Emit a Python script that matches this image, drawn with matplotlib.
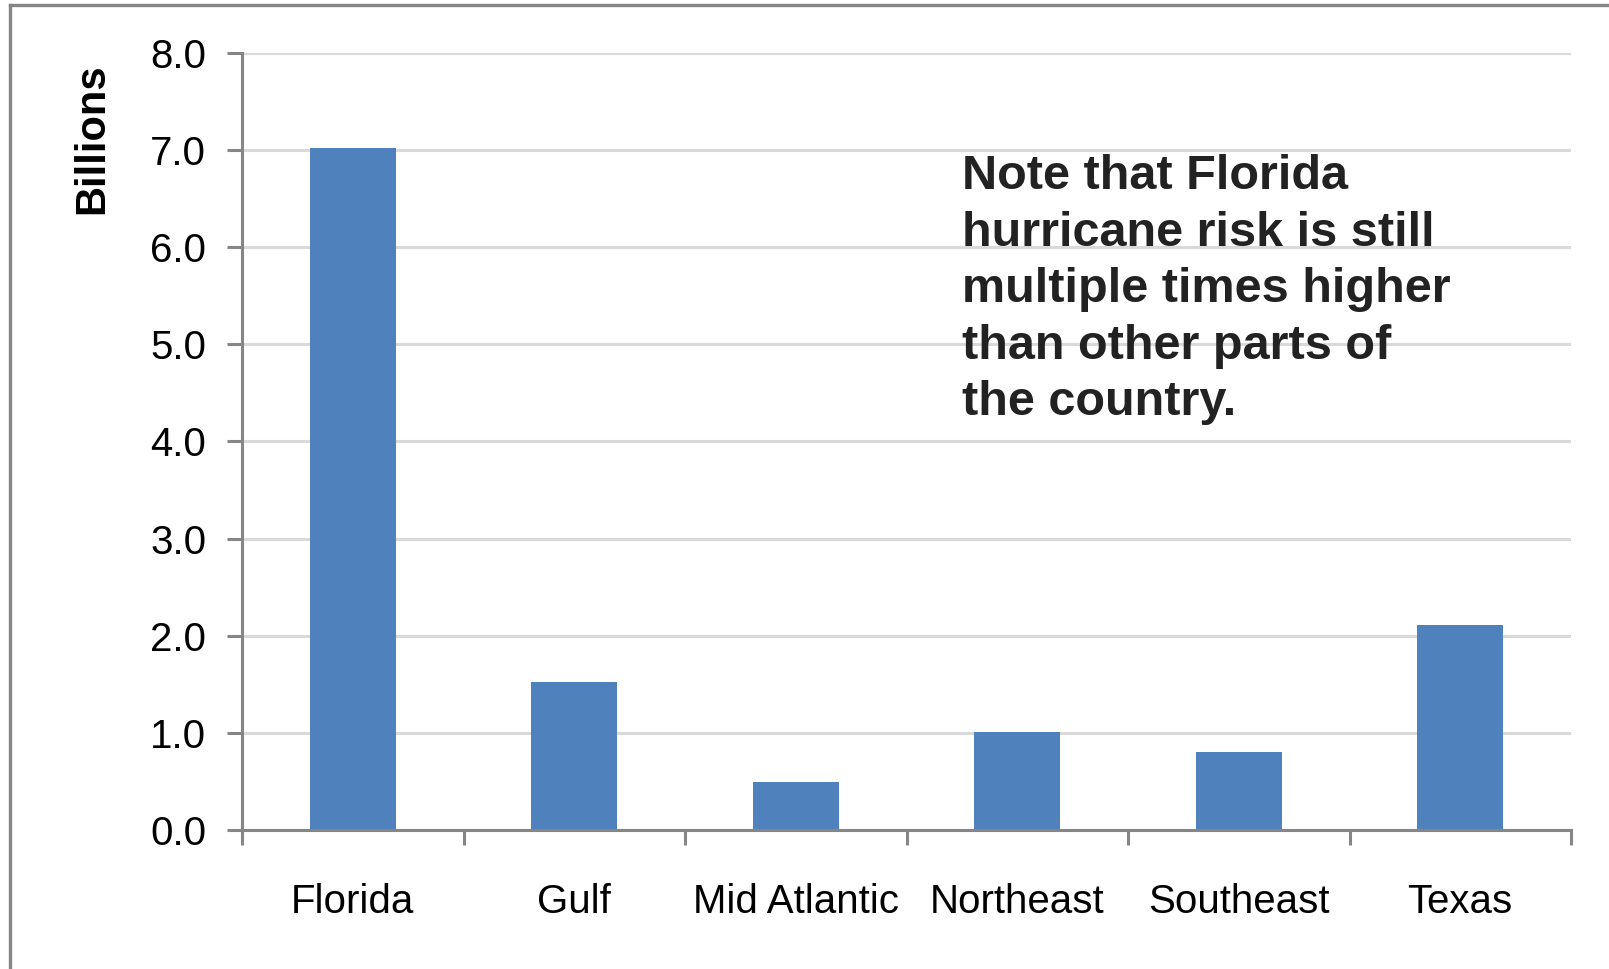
import matplotlib
matplotlib.use("Agg")
import matplotlib.pyplot as plt
from matplotlib.lines import Line2D
import numpy as np

regions = ["Florida", "Gulf", "Mid Atlantic", "Northeast", "Southeast", "Texas"]
losses = [7.02, 1.52, 0.49, 1.01, 0.80, 2.11]
y_ticks = [0.0, 1.0, 2.0, 3.0, 4.0, 5.0, 6.0, 7.0, 8.0]
note = ("Note that Florida\n"
        "hurricane risk is still\n"
        "multiple times higher\n"
        "than other parts of\n"
        "the country.")

W, H, DPI = 1609, 969, 100
fig = plt.figure(figsize=(W / DPI, H / DPI), dpi=DPI)
fig.patch.set_facecolor("white")

axis_grey = "#868686"
grid_grey = "#d9d9d9"
bar_blue = "#4f81bd"

ax = fig.add_axes([242 / W, 1 - 830 / H, (1571 - 242) / W, (830 - 53) / H])

x = np.arange(len(regions))
ax.bar(x, losses, width=0.39, color=bar_blue, zorder=3)

ax.set_xlim(-0.5, len(regions) - 0.5)
ax.set_ylim(0, 8)

# y axis
ax.set_yticks(y_ticks)
ax.set_yticklabels([f"{v:.1f}" for v in y_ticks], fontsize=29,
                   family="Liberation Sans", color="black")
ax.tick_params(axis="y", length=10.8, width=2.2, color=axis_grey, pad=15)
ax.yaxis.grid(True, color=grid_grey, linewidth=2.2, zorder=0)

# x axis: labels at centres, tick marks at category boundaries
ax.set_xticks(x)
ax.set_xticklabels(regions, fontsize=29, family="Liberation Sans", color="black")
ax.tick_params(axis="x", which="major", length=0, pad=38)
ax.set_xticks(np.arange(-0.5, len(regions)), minor=True)
ax.tick_params(axis="x", which="minor", length=10.8, width=2.2, color=axis_grey)

for side in ("top", "right"):
    ax.spines[side].set_visible(False)
for side in ("left", "bottom"):
    ax.spines[side].set_color(axis_grey)
    ax.spines[side].set_linewidth(2.2)
    ax.spines[side].set_zorder(4)

fig.text(92 / W, 1 - 139 / H, "Billions", rotation=90, ha="center", va="center",
         fontsize=30, fontweight="bold", family="Liberation Sans", color="black")

fig.text(962 / W, 1 - 154 / H, note, ha="left", va="top", fontsize=35,
         fontweight="bold", family="Liberation Sans", color="#222222",
         linespacing=1.33)

# outer frame, open towards the right and bottom edges
fig.add_artist(Line2D([10 / W, 10 / W], [1 - 5 / H, 0], transform=fig.transFigure,
                      color=axis_grey, linewidth=2.4))
fig.add_artist(Line2D([10 / W, 1], [1 - 5 / H, 1 - 5 / H], transform=fig.transFigure,
                      color=axis_grey, linewidth=2.4))

fig.savefig("out.png", dpi=DPI, facecolor="white")
